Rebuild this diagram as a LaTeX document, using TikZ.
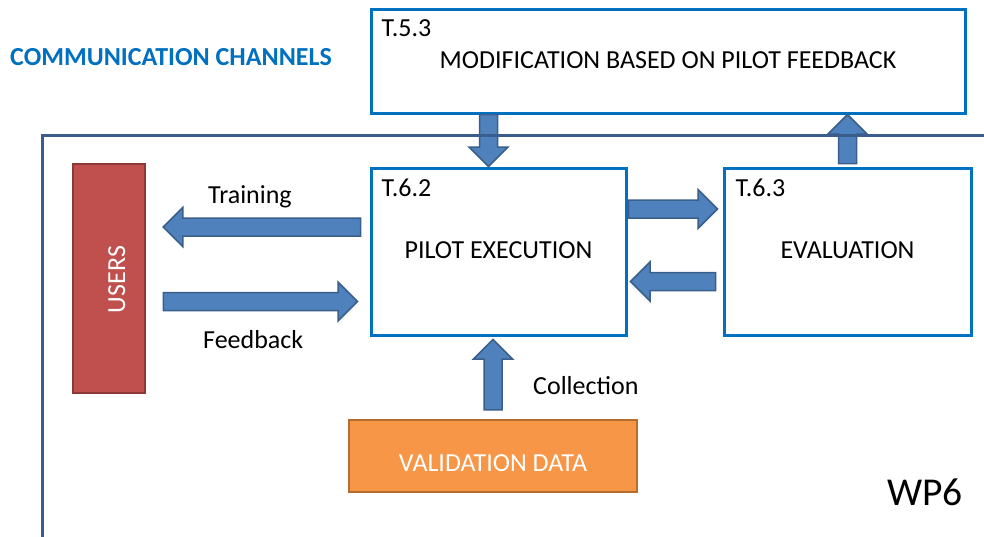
\documentclass[tikz,border=0pt]{standalone}
\usepackage{fontspec}
\setmainfont{Carlito}
\usetikzlibrary{calc}
\definecolor{boxblue}{HTML}{0070C0}
\definecolor{framecol}{HTML}{3A5D8B}
\definecolor{arrowfill}{HTML}{4F81BD}
\definecolor{arrowline}{HTML}{3A5F8B}
\definecolor{usersfill}{HTML}{C0504D}
\definecolor{usersline}{HTML}{8C3836}
\definecolor{valfill}{HTML}{F79646}
\definecolor{valline}{HTML}{B66D31}
\newcommand\arS{9pt}
\newcommand\arH{19.5pt}
\newcommand\arL{19.5pt}
\tikzset{
  txt/.style={inner sep=0pt, font=\fontsize{26}{31}\selectfont},
  taskbox/.style={draw=boxblue, line width=3pt, fill=white, inner sep=0pt},
  fat/.style={fill=arrowfill, draw=arrowline, line width=1.5pt, line join=miter,
    to path={let \p1=($(\tikztotarget)!\arL!(\tikztostart)$) in
      ($(\tikztostart)!\arS!90:(\tikztotarget)$) --
      ($(\p1)!\arS!90:(\tikztotarget)$) --
      ($(\p1)!\arH!90:(\tikztotarget)$) --
      (\tikztotarget) --
      ($(\p1)!\arH!-90:(\tikztotarget)$) --
      ($(\p1)!\arS!-90:(\tikztotarget)$) --
      ($(\tikztostart)!\arS!-90:(\tikztotarget)$) -- cycle}}
}
\begin{document}
\begin{tikzpicture}[x=1pt, y=-1pt]
\useasboundingbox[fill=white] (0,0) rectangle (984,536);

% boxes
\node[taskbox, minimum width=594pt, minimum height=104pt] (t53) at (668,61) {};
\node[taskbox, minimum width=255pt, minimum height=167pt] (t62) at (498.5,251.5) {};
\node[taskbox, minimum width=247pt, minimum height=167pt] (t63) at (847.5,251.5) {};
\node[draw=usersline, fill=usersfill, line width=2.5pt, minimum width=72pt, minimum height=229pt, inner sep=0pt] (users) at (109,278.5) {};
\node[draw=valline, fill=valfill, line width=2.5pt, minimum width=288pt, minimum height=72pt, inner sep=0pt] (val) at (493,456) {};

% texts in boxes
\node[txt, anchor=base west] (t53id) at ($(t53.north west)+(12,29)$) {T.5.3};
\node[txt, anchor=base] (t53tx) at ($(t53.north)+(0,61)$) {MODIFICATION BASED ON PILOT FEEDBACK};
\node[txt, anchor=base west] (t62id) at ($(t62.north west)+(12,30)$) {T.6.2};
\node[txt, anchor=base] (t62tx) at ($(t62.north)+(0,92)$) {PILOT EXECUTION};
\node[txt, anchor=base west] (t63id) at ($(t63.north west)+(13,30)$) {T.6.3};
\node[txt, anchor=base] (t63tx) at ($(t63.north)+(0,92)$) {EVALUATION};
\node[txt, anchor=base, rotate=90, text=white] (userstx) at (125,279.5) {USERS};
\node[txt, anchor=base, text=white] (valtx) at ($(val.north)+(0,53)$) {VALIDATION DATA};

% arrows
\coordinate (dA) at ($(t62.north)+(-10,0)$);
\path[fat] (t53.south -| dA) to (dA);
\coordinate (uA) at ($(t63.north)+(0,-3)$);
\path[fat] (uA) to (t53.south -| uA);
\coordinate (trS) at ($(t62.west)+(-9,-24.5)$);
\coordinate (trT) at ($(users.east)+(17,0)$);
\path[fat] (trS) to (trS -| trT);
\coordinate (fbS) at ($(users.east)+(17,23)$);
\coordinate (fbT) at ($(t62.west)+(-12,0)$);
\path[fat] (fbS) to (fbS -| fbT);
\coordinate (rS) at ($(t62.east)+(1,-42.5)$);
\coordinate (rT) at ($(t63.west)+(-5,0)$);
\path[fat] (rS) to (rS -| rT);
\coordinate (lS) at ($(t63.west)+(-7,30)$);
\coordinate (lT) at ($(t62.east)+(3,0)$);
\path[fat] (lS) to (lS -| lT);
\coordinate (cS) at ($(val.north)+(0,-9)$);
\path[fat] (cS) to ($(cS |- t62.south)+(0,3)$);

% WP6 frame
\coordinate (fBL) at (42,540);
\coordinate (fTR) at (990,135);
\draw[framecol, line width=3pt] (fBL) |- (fTR);

% free labels
\node[txt, anchor=base west, text=boxblue, font=\fontsize{26}{31}\selectfont\bfseries] (cc) at (10,65) {COMMUNICATION CHANNELS};
\node[txt, anchor=base west] (trl) at (208,203) {Training};
\node[txt, anchor=base west] (fbl) at (203,348) {Feedback};
\node[txt, anchor=base west] (col) at (533,394) {Collection};
\node[txt, anchor=base west, font=\fontsize{39.5}{46}\selectfont] (wp6) at (887,505) {WP6};
\end{tikzpicture}
\end{document}
